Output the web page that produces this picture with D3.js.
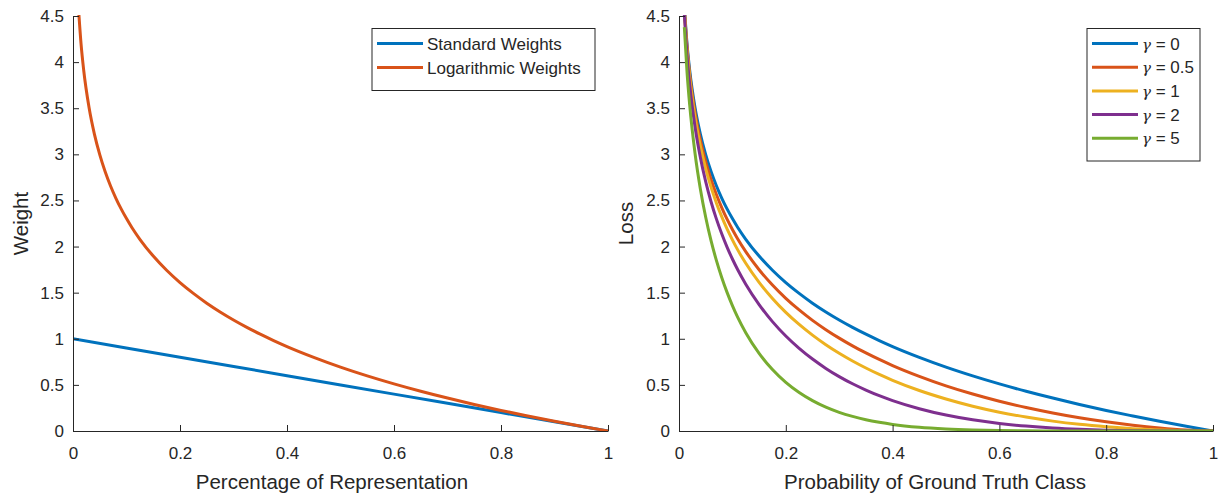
<!DOCTYPE html>
<html>
<head>
<meta charset="utf-8">
<script src="https://cdn.jsdelivr.net/npm/d3@7"></script>
<style>
  body { margin: 0; background: #fff; }
  svg text { font-family: "Liberation Sans", Arial, sans-serif; fill: #262626; }
</style>
</head>
<body>
<svg id="chart" width="1222" height="495"></svg>
<script>
"use strict";

// x positions the curves were read at
var pts = [0.01, 0.015, 0.02, 0.03, 0.04, 0.05, 0.06, 0.07, 0.08, 0.09, 0.1, 0.11, 0.125,
           0.15, 0.175, 0.2, 0.225, 0.25, 0.275, 0.3, 0.325, 0.35, 0.375, 0.4, 0.45,
           0.5, 0.55, 0.6, 0.65, 0.7, 0.75, 0.8, 0.85, 0.9, 0.95, 1];

// left panel
var stdX = [0, 0.2, 0.4, 0.6, 0.8, 1];
var stdWeights = [1, 0.8, 0.6, 0.4, 0.2, 0];
var logWeights = [4.605, 4.200, 3.912, 3.507, 3.219, 2.996, 2.813, 2.659, 2.526, 2.408, 2.303, 2.207, 2.079,
                  1.897, 1.743, 1.609, 1.492, 1.386, 1.291, 1.204, 1.124, 1.050, 0.981, 0.916, 0.799,
                  0.693, 0.598, 0.511, 0.431, 0.357, 0.288, 0.223, 0.163, 0.105, 0.051, 0];

// right panel
var gammaLabels = ["0", "0.5", "1", "2", "5"];
var loss0  = [4.605, 4.200, 3.912, 3.507, 3.219, 2.996, 2.813, 2.659, 2.526, 2.408, 2.303, 2.207, 2.079,
              1.897, 1.743, 1.609, 1.492, 1.386, 1.291, 1.204, 1.124, 1.050, 0.981, 0.916, 0.799,
              0.693, 0.598, 0.511, 0.431, 0.357, 0.288, 0.223, 0.163, 0.105, 0.051, 0];
var loss05 = [4.582, 4.168, 3.873, 3.454, 3.154, 2.920, 2.727, 2.564, 2.423, 2.297, 2.185, 2.082, 1.945,
              1.749, 1.583, 1.439, 1.313, 1.200, 1.099, 1.007, 0.923, 0.847, 0.776, 0.710, 0.593,
              0.490, 0.401, 0.323, 0.255, 0.196, 0.144, 0.100, 0.063, 0.033, 0.011, 0];
var loss1  = [4.559, 4.137, 3.834, 3.402, 3.090, 2.846, 2.644, 2.473, 2.324, 2.191, 2.073, 1.964, 1.819,
              1.612, 1.438, 1.287, 1.156, 1.040, 0.936, 0.843, 0.759, 0.683, 0.613, 0.550, 0.439,
              0.347, 0.269, 0.204, 0.151, 0.107, 0.072, 0.045, 0.024, 0.011, 0.003, 0];
var loss2  = [4.513, 4.075, 3.757, 3.300, 2.967, 2.704, 2.486, 2.300, 2.138, 1.994, 1.865, 1.748, 1.592,
              1.371, 1.186, 1.030, 0.896, 0.780, 0.679, 0.590, 0.512, 0.444, 0.383, 0.330, 0.242,
              0.173, 0.121, 0.082, 0.053, 0.032, 0.018, 0.009, 0.004, 0.001, 0, 0];
var loss5  = [4.379, 3.895, 3.536, 3.012, 2.625, 2.318, 2.064, 1.850, 1.665, 1.503, 1.360, 1.232, 1.066,
              0.842, 0.666, 0.527, 0.417, 0.329, 0.258, 0.202, 0.158, 0.122, 0.094, 0.071, 0.040,
              0.022, 0.011, 0.005, 0.002, 0.001, 0, 0, 0, 0, 0, 0];

var xTicks = [0, 0.2, 0.4, 0.6, 0.8, 1];
var yTicks = [0, 0.5, 1, 1.5, 2, 2.5, 3, 3.5, 4, 4.5];

var colors = ["#0072BD", "#D95319", "#EDB120", "#7E2F8E", "#77AC30"];

var svg = d3.select("#chart");
var plotTop = 16, plotBottom = 431;

function panel(left, right, id, xLabel, xLabelX, yLabel, yLabelX, series, legend) {
  var x = d3.scaleLinear().domain([0, 1]).range([left, right]);
  var y = d3.scaleLinear().domain([0, 4.5]).range([plotBottom, plotTop]);

  svg.append("clipPath").attr("id", id)
    .append("rect").attr("x", left).attr("y", plotTop - 1)
    .attr("width", right - left + 2).attr("height", plotBottom - plotTop + 2);

  var line = d3.line()
    .x(function(d) { return x(d[0]); })
    .y(function(d) { return y(d[1]); })
    .curve(d3.curveMonotoneX);

  var g = svg.append("g").attr("clip-path", "url(#" + id + ")");
  series.forEach(function(s) {
    g.append("path")
      .datum(d3.zip(s.x, s.y))
      .attr("d", line)
      .attr("fill", "none")
      .attr("stroke", s.color)
      .attr("stroke-width", 3);
  });

  var xa = svg.append("g").attr("transform", "translate(0," + plotBottom + ")")
    .call(d3.axisBottom(x).tickValues(xTicks).tickFormat(d3.format("~g"))
      .tickSizeInner(-6).tickSizeOuter(0).tickPadding(16));
  var ya = svg.append("g").attr("transform", "translate(" + left + ",0)")
    .call(d3.axisLeft(y).tickValues(yTicks).tickFormat(d3.format("~g"))
      .tickSizeInner(-6).tickSizeOuter(0).tickPadding(9));
  [xa, ya].forEach(function(a) {
    a.selectAll("path, line").attr("stroke", "#262626");
    a.selectAll("text").attr("font-size", 17).attr("fill", "#262626");
  });

  svg.append("text").attr("x", xLabelX).attr("y", 489)
    .attr("text-anchor", "middle").attr("font-size", 20.5).text(xLabel);
  svg.append("text")
    .attr("transform", "translate(" + yLabelX + "," + (plotTop + plotBottom) / 2 + ") rotate(-90)")
    .attr("text-anchor", "middle").attr("font-size", 20.5).text(yLabel);

  // legend
  var lg = svg.append("g");
  lg.append("rect").attr("x", legend.x).attr("y", legend.y)
    .attr("width", legend.w).attr("height", 14 + series.length * legend.step)
    .attr("fill", "#fff").attr("stroke", "#262626").attr("stroke-width", 1);
  series.forEach(function(s, i) {
    var cy = legend.y + 15 + i * legend.step;
    lg.append("line").attr("x1", legend.x + 5).attr("x2", legend.x + 51)
      .attr("y1", cy).attr("y2", cy)
      .attr("stroke", s.color).attr("stroke-width", 3);
    var t = lg.append("text").attr("x", legend.x + 55).attr("y", cy + 6)
      .attr("font-size", 17);
    if (s.sym) {
      t.append("tspan").attr("font-family", "DejaVu Serif").attr("font-style", "italic")
        .attr("font-size", 15).text(s.sym);
    }
    t.append("tspan").text(s.name);
  });
}

panel(73, 608, "clipL", "Percentage of Representation", 332, "Weight", 28, [
  { name: "Standard Weights", x: stdX, y: stdWeights, color: colors[0] },
  { name: "Logarithmic Weights", x: pts, y: logWeights, color: colors[1] }
], { x: 372, y: 28.5, w: 223, step: 24 });

var lossSeries = [loss0, loss05, loss1, loss2, loss5];
panel(679, 1213, "clipR", "Probability of Ground Truth Class", 935, "Loss", 633,
  lossSeries.map(function(v, i) {
    return { sym: "\u03b3", name: " = " + gammaLabels[i], x: pts, y: v, color: colors[i] };
  }),
  { x: 1087, y: 28.5, w: 113, step: 23.7 });
</script>
</body>
</html>
